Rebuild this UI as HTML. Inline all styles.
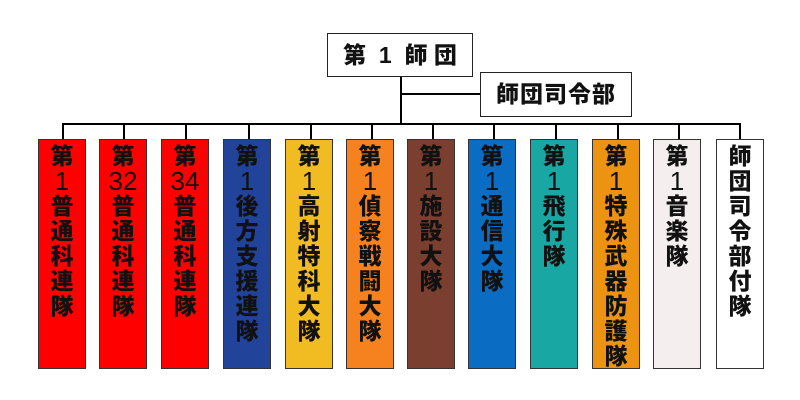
<!DOCTYPE html>
<html><head><meta charset="utf-8"><style>
body{margin:0;width:800px;height:400px;background:#fff;position:relative;overflow:hidden;font-family:"Liberation Sans","Noto Sans CJK JP",sans-serif}
.l{position:absolute;background:#000}
.b{position:absolute;top:139px;width:46px;height:224px;border:1.5px solid #333;text-align:center;font-weight:900;font-size:23px;line-height:25px;padding-top:4px;box-sizing:content-box;color:#111}
.b div{height:25px}
.n{font-weight:normal;font-size:26px}
.t{position:absolute;border:1.5px solid #222;background:#fff;font-weight:900;font-size:23px;text-align:center;color:#111;white-space:nowrap}
</style></head><body>
<div class="t" style="left:327px;top:33px;width:144px;height:42px;line-height:42px;word-spacing:0">第&nbsp;&nbsp;1&nbsp;&nbsp;師&nbsp;団</div>
<div class="t" style="left:480px;top:72px;width:150px;height:43px;line-height:43px;letter-spacing:1px">師団司令部</div>
<div class="l" style="left:400px;top:77px;width:2px;height:48px"></div>
<div class="l" style="left:400px;top:93px;width:80px;height:2px"></div>
<div class="l" style="left:62px;top:123px;width:679px;height:2px"></div>
<div class="l" style="left:62px;top:123px;width:2px;height:16px"></div>
<div class="l" style="left:123px;top:123px;width:2px;height:16px"></div>
<div class="l" style="left:185px;top:123px;width:2px;height:16px"></div>
<div class="l" style="left:248px;top:123px;width:2px;height:16px"></div>
<div class="l" style="left:310px;top:123px;width:2px;height:16px"></div>
<div class="l" style="left:371px;top:123px;width:2px;height:16px"></div>
<div class="l" style="left:432px;top:123px;width:2px;height:16px"></div>
<div class="l" style="left:493px;top:123px;width:2px;height:16px"></div>
<div class="l" style="left:555px;top:123px;width:2px;height:16px"></div>
<div class="l" style="left:617px;top:123px;width:2px;height:16px"></div>
<div class="l" style="left:678px;top:123px;width:2px;height:16px"></div>
<div class="l" style="left:739px;top:123px;width:2px;height:16px"></div>

<div class="b" style="left:38px;background:#ff0000"><div>第</div><div class="n">1</div><div>普</div><div>通</div><div>科</div><div>連</div><div>隊</div></div>
<div class="b" style="left:99px;background:#ff0000"><div>第</div><div class="n">32</div><div>普</div><div>通</div><div>科</div><div>連</div><div>隊</div></div>
<div class="b" style="left:161px;background:#ff0000"><div>第</div><div class="n">34</div><div>普</div><div>通</div><div>科</div><div>連</div><div>隊</div></div>
<div class="b" style="left:223px;background:#22439a"><div>第</div><div class="n">1</div><div>後</div><div>方</div><div>支</div><div>援</div><div>連</div><div>隊</div></div>
<div class="b" style="left:285px;background:#f1bb22"><div>第</div><div class="n">1</div><div>高</div><div>射</div><div>特</div><div>科</div><div>大</div><div>隊</div></div>
<div class="b" style="left:346px;background:#f5821f"><div>第</div><div class="n">1</div><div>偵</div><div>察</div><div>戦</div><div>闘</div><div>大</div><div>隊</div></div>
<div class="b" style="left:407px;background:#7b3f2f"><div>第</div><div class="n">1</div><div>施</div><div>設</div><div>大</div><div>隊</div></div>
<div class="b" style="left:468px;background:#0a6cc2"><div>第</div><div class="n">1</div><div>通</div><div>信</div><div>大</div><div>隊</div></div>
<div class="b" style="left:530px;background:#19a7a3"><div>第</div><div class="n">1</div><div>飛</div><div>行</div><div>隊</div></div>
<div class="b" style="left:592px;background:#ec9412"><div>第</div><div class="n">1</div><div>特</div><div>殊</div><div>武</div><div>器</div><div>防</div><div>護</div><div>隊</div></div>
<div class="b" style="left:653px;background:#f4eeee"><div>第</div><div class="n">1</div><div>音</div><div>楽</div><div>隊</div></div>
<div class="b" style="left:716px;background:#ffffff"><div>師</div><div>団</div><div>司</div><div>令</div><div>部</div><div>付</div><div>隊</div></div>
</body></html>
